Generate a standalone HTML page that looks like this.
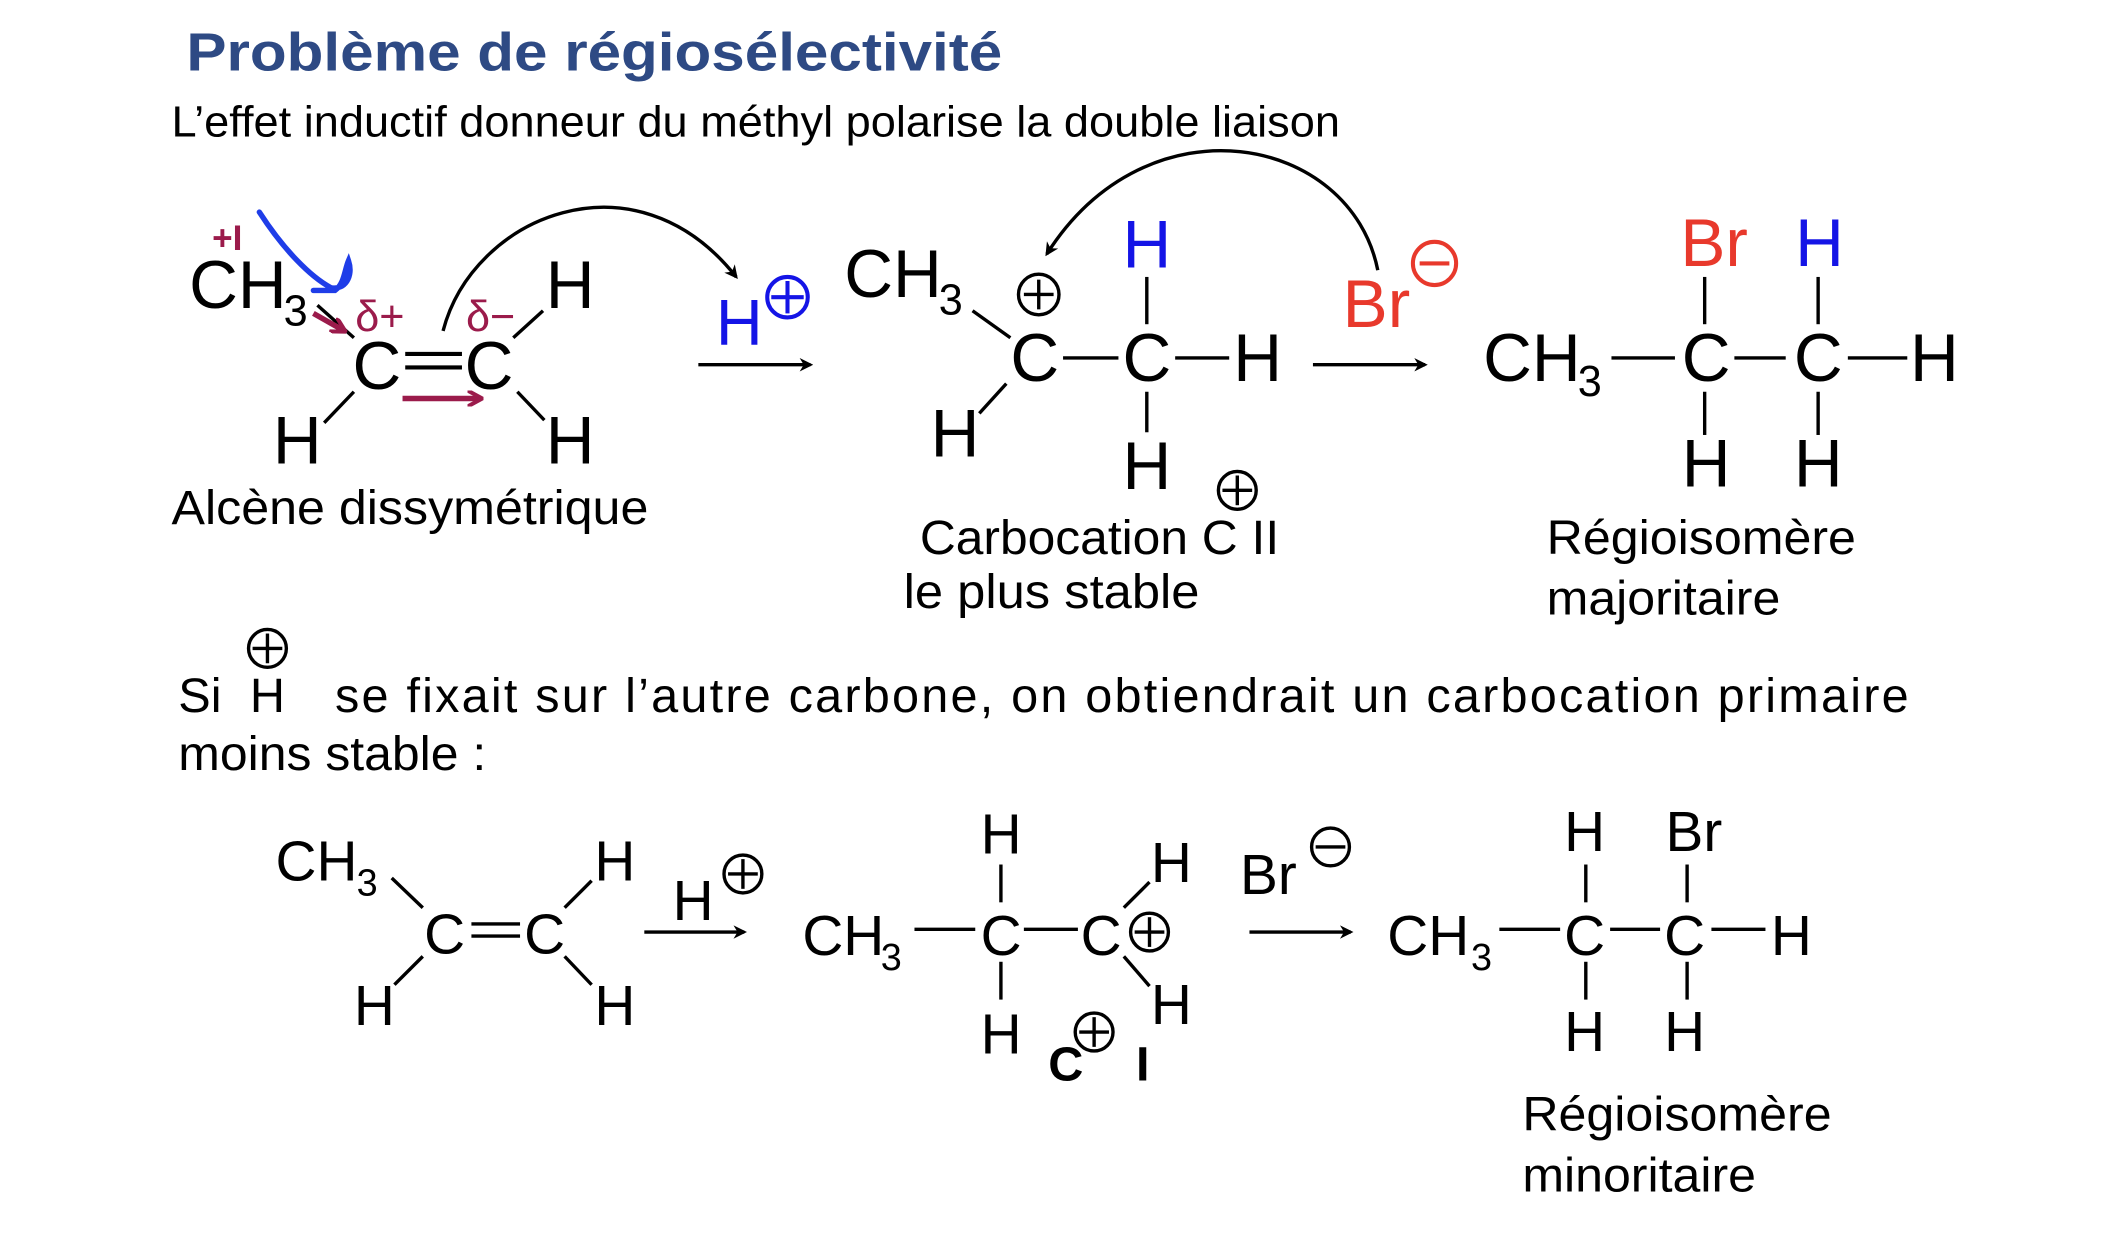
<!DOCTYPE html>
<html><head><meta charset="utf-8"><style>html,body{margin:0;padding:0;background:#fff}svg{display:block}text{font-family:"Liberation Sans",Arial,sans-serif}</style></head>
<body>
<svg width="2118" height="1246" viewBox="0 0 1568 922.4" xmlns="http://www.w3.org/2000/svg">
<defs>
<marker id="ah" markerWidth="10" markerHeight="10" refX="8" refY="5" orient="auto" markerUnits="userSpaceOnUse"><path d="M0,0 L10,5 L0,10 L3,5 Z" fill="#000"/></marker>
<marker id="ap" markerWidth="12" markerHeight="12" refX="10" refY="6" orient="auto" markerUnits="userSpaceOnUse"><path d="M0,0 L11,6 L0,12" fill="none" stroke="#9B1B4B" stroke-width="3"/></marker>
</defs>
<rect width="1568" height="922.4" fill="#fff"/>
<text x="138" y="52" font-size="40" font-weight="bold" fill="#2E4A84" textLength="604" lengthAdjust="spacingAndGlyphs">Problème de régiosélectivité</text>
<text x="127" y="101" font-size="32" fill="#000" textLength="865" lengthAdjust="spacingAndGlyphs">L’effet inductif donneur du méthyl polarise la double liaison</text>

<g stroke="#000" stroke-width="2.5" fill="none">
<line x1="235" y1="226" x2="262" y2="250"/>
<line x1="380" y1="250" x2="402" y2="230"/>
<line x1="262" y1="290" x2="240" y2="313"/>
<line x1="383" y1="290" x2="403" y2="311"/>
<line x1="300" y1="262" x2="342" y2="262" stroke-width="3"/>
<line x1="300" y1="272" x2="342" y2="272" stroke-width="3"/>
<path d="M328,245 C350,160 470,110 545,205" marker-end="url(#ah)"/>
<line x1="517" y1="270" x2="600" y2="270" marker-end="url(#ah)"/>
<line x1="720" y1="230" x2="748" y2="250"/>
<line x1="745" y1="284" x2="725" y2="306"/>
<line x1="849" y1="205" x2="849" y2="240"/>
<line x1="849" y1="290" x2="849" y2="320"/>
<line x1="787" y1="265" x2="828" y2="265"/>
<line x1="870" y1="265" x2="910" y2="265"/>
<path d="M1020,200 C1000,100 850,70 775,188" marker-end="url(#ah)"/>
<line x1="972" y1="270" x2="1055" y2="270" marker-end="url(#ah)"/>
<line x1="1193" y1="265" x2="1240" y2="265"/>
<line x1="1284" y1="265" x2="1322" y2="265"/>
<line x1="1368" y1="265" x2="1412" y2="265"/>
<line x1="1262" y1="205" x2="1262" y2="240"/>
<line x1="1262" y1="290" x2="1262" y2="322"/>
<line x1="1346" y1="205" x2="1346" y2="240"/>
<line x1="1346" y1="290" x2="1346" y2="322"/>
<line x1="290" y1="650" x2="313" y2="672"/>
<line x1="418" y1="672" x2="438" y2="652"/>
<line x1="313" y1="708" x2="292" y2="729"/>
<line x1="418" y1="708" x2="438" y2="729"/>
<line x1="349" y1="684" x2="385" y2="684"/>
<line x1="349" y1="693" x2="385" y2="693"/>
<line x1="477" y1="690" x2="551" y2="690" marker-end="url(#ah)"/>
<line x1="677" y1="688" x2="722" y2="688"/>
<line x1="758" y1="688" x2="798" y2="688"/>
<line x1="741" y1="640" x2="741" y2="668"/>
<line x1="741" y1="712" x2="741" y2="740"/>
<line x1="832" y1="672" x2="851" y2="653"/>
<line x1="832" y1="708" x2="851" y2="730"/>
<line x1="925" y1="690" x2="1000" y2="690" marker-end="url(#ah)"/>
<line x1="1110" y1="688" x2="1155" y2="688"/>
<line x1="1192" y1="688" x2="1229" y2="688"/>
<line x1="1267" y1="688" x2="1307" y2="688"/>
<line x1="1174" y1="640" x2="1174" y2="668"/>
<line x1="1174" y1="712" x2="1174" y2="740"/>
<line x1="1249" y1="640" x2="1249" y2="668"/>
<line x1="1249" y1="712" x2="1249" y2="740"/>
</g>

<text x="157" y="185" font-size="26" font-weight="bold" fill="#9B1B4B">+I</text>
<text x="140" y="228" font-size="50">CH</text><text x="210" y="241" font-size="32">3</text>
<text x="263" y="245" font-size="32" fill="#9B1B4B">δ+</text>
<text x="345" y="245" font-size="32" fill="#9B1B4B">δ−</text>
<text x="404" y="228" font-size="50">H</text>
<text x="261" y="288" font-size="50">C</text>
<text x="344" y="288" font-size="50">C</text>
<text x="202" y="343" font-size="50">H</text>
<text x="404" y="343" font-size="50">H</text>
<path d="M298,295 L356,295" stroke="#9B1B4B" stroke-width="4" marker-end="url(#ap)" fill="none"/>
<path d="M232,232 L255,245" stroke="#9B1B4B" stroke-width="4" marker-end="url(#ap)" fill="none"/>
<path d="M192,157 C210,185 230,205 245,213 C255,215 262,205 258,193 C255,200 255,210 248,215 L232,215" stroke="#1f3de8" stroke-width="4" fill="none" stroke-linecap="round"/>
<text x="127" y="388" font-size="36" textLength="353" lengthAdjust="spacingAndGlyphs">Alcène dissymétrique</text>

<text x="530" y="255" font-size="48" fill="#1414e6">H</text>
<g stroke="#1414e6" stroke-width="3" fill="none"><circle cx="583" cy="220" r="15"/><line x1="571" y1="220" x2="595" y2="220"/><line x1="583" y1="208" x2="583" y2="232"/></g>

<text x="625" y="220" font-size="50">CH</text><text x="695" y="233" font-size="32">3</text>
<g stroke="#000" stroke-width="2.5" fill="none"><circle cx="769" cy="218" r="15"/><line x1="758" y1="218" x2="780" y2="218"/><line x1="769" y1="207" x2="769" y2="229"/></g>
<text x="748" y="282" font-size="50">C</text>
<text x="831" y="282" font-size="50">C</text>
<text x="831" y="198" font-size="50" fill="#1414e6">H</text>
<text x="913" y="282" font-size="50">H</text>
<text x="831" y="362" font-size="50">H</text>
<text x="689" y="338" font-size="50">H</text>
<g stroke="#000" stroke-width="2.5" fill="none"><circle cx="916" cy="363" r="14"/><line x1="905" y1="363" x2="927" y2="363"/><line x1="916" y1="352" x2="916" y2="374"/></g>
<text x="681" y="410" font-size="36" textLength="266" lengthAdjust="spacingAndGlyphs">Carbocation C II</text>
<text x="669" y="450" font-size="36" textLength="219" lengthAdjust="spacingAndGlyphs">le plus stable</text>
<text x="994" y="242" font-size="50" fill="#e8392c">Br</text>
<g stroke="#e8392c" stroke-width="3" fill="none"><circle cx="1062" cy="195" r="16"/><line x1="1051" y1="195" x2="1073" y2="195"/></g>

<text x="1098" y="282" font-size="50">CH</text><text x="1168" y="293" font-size="32">3</text>
<text x="1245" y="282" font-size="50">C</text>
<text x="1328" y="282" font-size="50">C</text>
<text x="1414" y="282" font-size="50">H</text>
<text x="1244" y="197" font-size="50" fill="#e8392c">Br</text>
<text x="1329" y="197" font-size="50" fill="#1414e6">H</text>
<text x="1245" y="360" font-size="50">H</text>
<text x="1328" y="360" font-size="50">H</text>
<text x="1145" y="410" font-size="36" textLength="229" lengthAdjust="spacingAndGlyphs">Régioisomère</text>
<text x="1145" y="455" font-size="36" textLength="173" lengthAdjust="spacingAndGlyphs">majoritaire</text>

<text x="132" y="527" font-size="36">Si</text>
<text x="185" y="527" font-size="36">H</text>
<g stroke="#000" stroke-width="2.5" fill="none"><circle cx="198" cy="480" r="14"/><line x1="187" y1="480" x2="209" y2="480"/><line x1="198" y1="469" x2="198" y2="491"/></g>
<text x="248" y="527" font-size="36" textLength="1165" lengthAdjust="spacing">se fixait sur l’autre carbone, on obtiendrait un carbocation primaire</text>
<text x="132" y="570" font-size="36" textLength="228" lengthAdjust="spacingAndGlyphs">moins stable :</text>

<text x="204" y="652" font-size="42">CH</text><text x="264" y="663" font-size="28">3</text>
<text x="440" y="652" font-size="42">H</text>
<text x="314" y="706" font-size="42">C</text>
<text x="388" y="706" font-size="42">C</text>
<text x="262" y="759" font-size="42">H</text>
<text x="440" y="759" font-size="42">H</text>
<text x="498" y="681" font-size="42">H</text>
<g stroke="#000" stroke-width="2.5" fill="none"><circle cx="550" cy="647" r="14"/><line x1="539" y1="647" x2="561" y2="647"/><line x1="550" y1="636" x2="550" y2="658"/></g>

<text x="594" y="707" font-size="42">CH</text><text x="652" y="718" font-size="28">3</text>
<text x="726" y="707" font-size="42">C</text>
<text x="800" y="707" font-size="42">C</text>
<g stroke="#000" stroke-width="2.5" fill="none"><circle cx="851" cy="690" r="14"/><line x1="840" y1="690" x2="862" y2="690"/><line x1="851" y1="679" x2="851" y2="701"/></g>
<text x="726" y="632" font-size="42">H</text>
<text x="726" y="780" font-size="42">H</text>
<text x="852" y="653" font-size="42">H</text>
<text x="852" y="758" font-size="42">H</text>
<text x="776" y="800" font-size="36" font-weight="bold">C</text>
<g stroke="#000" stroke-width="2.5" fill="none"><circle cx="810" cy="764" r="14"/><line x1="799" y1="764" x2="821" y2="764"/><line x1="810" y1="753" x2="810" y2="775"/></g>
<text x="841" y="800" font-size="36" font-weight="bold">I</text>
<text x="918" y="662" font-size="42">Br</text>
<g stroke="#000" stroke-width="2.5" fill="none"><circle cx="985" cy="627" r="14"/><line x1="974" y1="627" x2="996" y2="627"/></g>

<text x="1027" y="707" font-size="42">CH</text><text x="1089" y="718" font-size="28">3</text>
<text x="1158" y="707" font-size="42">C</text>
<text x="1232" y="707" font-size="42">C</text>
<text x="1311" y="707" font-size="42">H</text>
<text x="1158" y="630" font-size="42">H</text>
<text x="1233" y="630" font-size="42">Br</text>
<text x="1158" y="778" font-size="42">H</text>
<text x="1232" y="778" font-size="42">H</text>
<text x="1127" y="837" font-size="36" textLength="229" lengthAdjust="spacingAndGlyphs">Régioisomère</text>
<text x="1127" y="882" font-size="36" textLength="173" lengthAdjust="spacingAndGlyphs">minoritaire</text>
</svg>
</body></html>
